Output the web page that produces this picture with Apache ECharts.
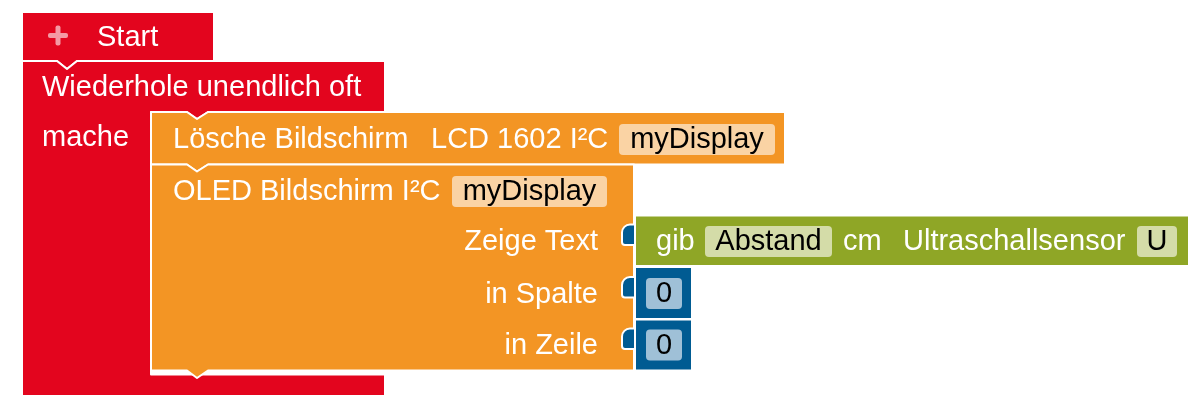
<!DOCTYPE html>
<html>
<head>
<meta charset="utf-8">
<script src="https://cdn.jsdelivr.net/npm/echarts@6/dist/echarts.min.js"></script>
<style>
  html, body { margin: 0; padding: 0; background: #fff; }
  #chart { width: 1202px; height: 408px; }
</style>
</head>
<body>
<div id="chart"></div>
<script>
// texts shown on the blocks
var startLabels = ['Start'];
var loopLabels = ['Wiederhole unendlich oft', 'mache'];
var clearLabels = ['Lösche Bildschirm', 'LCD 1602 I²C'];
var clearFields = ['myDisplay'];
var oledLabels = ['OLED Bildschirm I²C'];
var oledFields = ['myDisplay'];
var oledInputs = ['Zeige Text', 'in Spalte', 'in Zeile'];
var sensorLabels = ['gib', 'cm', 'Ultraschallsensor'];
var sensorFields = ['Abstand', 'U'];
var numberValues = ['0', '0'];

// colours
var RED = '#e3051e', ORANGE = '#f39524', GREEN = '#8fa626', BLUE = '#005b92';
var PEACH = '#fad3a4', LIGHTGREEN = '#d4dca8', LIGHTBLUE = '#9fc0d7', PLUS = '#f49aa4';
var FONT = '"Liberation Sans", Arial, Helvetica, sans-serif';
var FS = 29;
var TEXT_SHIFT = 1.5; // canvas "middle" sits a bit above the cap centre

// draw order: start, loop, clear, oled, 3 input tabs, sensor, 2 numbers
var blockIds = [0, 1, 2, 3, 4, 5, 6, 7, 8, 9];
var rowCenters = [240.5, 293, 344.5];

function renderBlock(params, api) {
  var i = api.value(0);
  var c = function (x, y) { return api.coord([x, y]); };
  var pts = function (list) { return list.map(function (p) { return c(p[0], p[1]); }); };
  var poly = function (list, fill) {
    return { type: 'polygon', shape: { points: pts(list) },
      style: { fill: fill, stroke: '#fff', lineWidth: 2, lineJoin: 'round' } };
  };
  var box = function (x0, y0, x1, y1, r, fill, stroke) {
    var a = c(x0, y0), b = c(x1, y1);
    return { type: 'rect', shape: { x: a[0], y: a[1], width: b[0] - a[0], height: b[1] - a[1], r: r },
      style: { fill: fill, stroke: stroke ? '#fff' : null, lineWidth: stroke ? 2 : 0 } };
  };
  var text = function (s, x, y, align, color) {
    var p = c(x, y + TEXT_SHIFT);
    return { type: 'text', x: p[0], y: p[1],
      style: { text: s, fill: color || '#fff', font: FS + 'px ' + FONT,
        align: align || 'left', textAlign: align || 'left',
        verticalAlign: 'middle', textVerticalAlign: 'middle' } };
  };
  var pill = function (s, x0, x1, cy, fill) {
    return [box(x0, cy - 15.5, x1, cy + 15.5, 4, fill, false), text(s, (x0 + x1) / 2, cy - 1, 'center', '#000')];
  };
  var kids = [];
  if (i === 0) {
    kids.push(poly([[22, 12], [214, 12], [214, 61], [77, 61], [67, 69], [57, 61], [22, 61]], RED));
    kids.push(box(48, 33, 68, 38, 2, PLUS, false));
    kids.push(box(55.5, 25.5, 60.5, 45.5, 2, PLUS, false));
    kids.push(text(startLabels[0], 97, 36.5));
  } else if (i === 1) {
    kids.push(poly([[22, 61], [57, 61], [67, 69], [77, 61], [385, 61], [385, 112], [208, 112], [197, 119],
      [187, 112], [151, 112], [151, 374.5], [385, 374.5], [385, 396], [22, 396]], RED));
    kids.push(text(loopLabels[0], 42, 86.5));
    kids.push(text(loopLabels[1], 42, 136.5));
  } else if (i === 2) {
    kids.push(poly([[151, 112], [187, 112], [197, 119], [208, 112], [785, 112], [785, 164.5],
      [208, 164.5], [197, 171.5], [187, 164.5], [151, 164.5]], ORANGE));
    kids.push(text(clearLabels[0], 173, 138));
    kids.push(text(clearLabels[1], 431, 138));
    kids = kids.concat(pill(clearFields[0], 619, 775, 139.5, PEACH));
  } else if (i === 3) {
    kids.push(poly([[151, 164.5], [187, 164.5], [197, 171.5], [208, 164.5], [634, 164.5], [634, 370.5],
      [208, 370.5], [197, 378], [187, 370.5], [151, 370.5]], ORANGE));
    kids.push(text(oledLabels[0], 173, 190));
    kids = kids.concat(pill(oledFields[0], 452, 607, 191.5, PEACH));
    for (var k = 0; k < oledInputs.length; k++) {
      kids.push(text(oledInputs[k], 598, rowCenters[k], 'right'));
    }
  } else if (i >= 4 && i <= 6) {
    var cy = rowCenters[i - 4];
    var a = c(622, cy - 16), b = c(638, cy + 4.5);
    kids.push({ type: 'rect', shape: { x: a[0], y: a[1], width: b[0] - a[0], height: b[1] - a[1], r: [8, 0, 0, 3] },
      style: { fill: BLUE, stroke: '#fff', lineWidth: 2 } });
  } else if (i === 7) {
    kids.push(box(635, 215.5, 1189, 266, 0, GREEN, true));
    kids.push(text(sensorLabels[0], 656, 240.5));
    kids = kids.concat(pill(sensorFields[0], 705, 832, 241.5, LIGHTGREEN));
    kids.push(text(sensorLabels[1], 843, 240.5));
    kids.push(text(sensorLabels[2], 903, 240.5));
    kids = kids.concat(pill(sensorFields[1], 1137, 1177, 241.5, LIGHTGREEN));
  } else {
    var n = i - 8;
    var top = n === 0 ? 267 : 319.5;
    var bot = n === 0 ? 319 : 370.5;
    kids.push(box(635, top, 692, bot, 0, BLUE, true));
    kids = kids.concat(pill(numberValues[n], 646, 682, rowCenters[n + 1] + 0.5, LIGHTBLUE));
  }
  return { type: 'group', children: kids };
}

var chart = echarts.init(document.getElementById('chart'), null, { renderer: 'canvas' });
chart.setOption({
  animation: false,
  backgroundColor: '#fff',
  grid: { left: 0, right: 0, top: 0, bottom: 0 },
  xAxis: { type: 'value', min: 0, max: 1202, show: false },
  yAxis: { type: 'value', min: 0, max: 408, inverse: true, show: false },
  tooltip: { show: false },
  series: [{
    type: 'custom',
    renderItem: renderBlock,
    data: blockIds.map(function (id) { return [id]; }),
    encode: { x: -1, y: -1 },
    silent: true,
    clip: false
  }]
});
</script>
</body>
</html>
